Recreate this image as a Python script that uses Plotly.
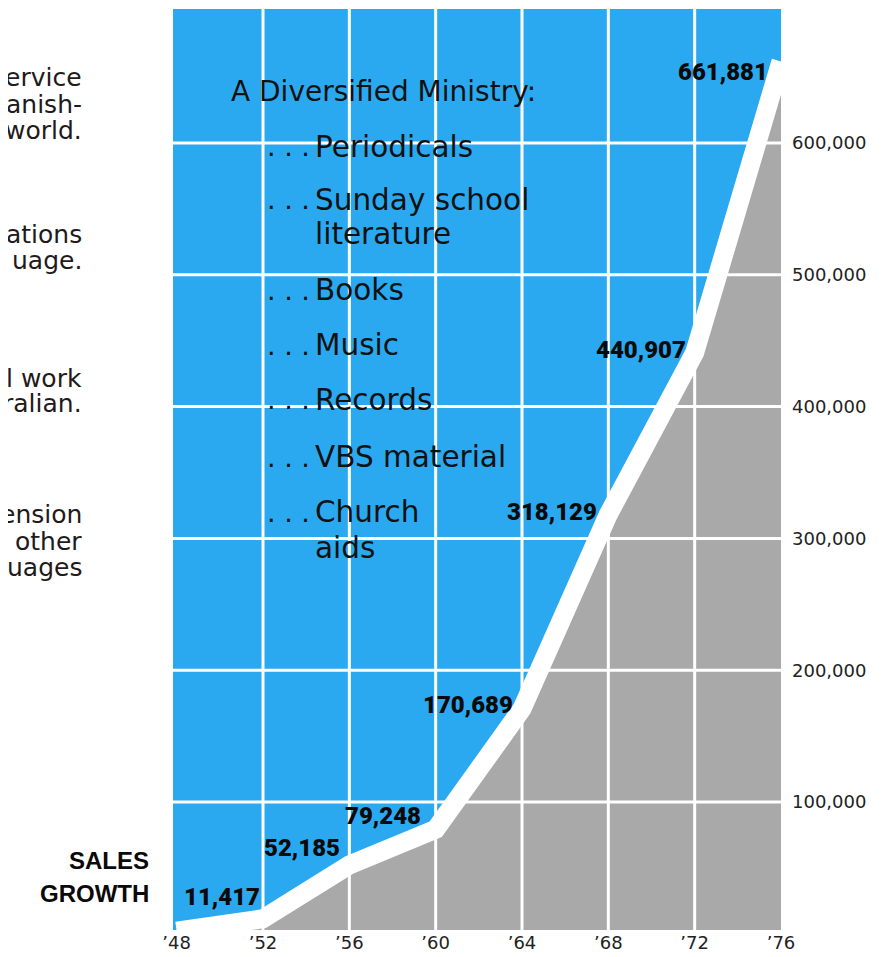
import plotly.graph_objects as go

# ---- data ----
years = [1948, 1952, 1956, 1960, 1964, 1968, 1972, 1976]
sales = [2000, 11417, 52185, 79248, 170689, 318129, 440907, 661881]
labeled_years = [1952, 1956, 1960, 1964, 1968, 1972, 1976]
labeled_sales = [11417, 52185, 79248, 170689, 318129, 440907, 661881]
label_text = ["11,417", "52,185", "79,248", "170,689", "318,129", "440,907", "661,881"]
x_ticks = [1948, 1952, 1956, 1960, 1964, 1968, 1972, 1976]
x_tick_text = ["\u201948", "\u201952", "\u201956", "\u201960", "\u201964", "\u201968", "\u201972", "\u201976"]
y_ticks = [100000, 200000, 300000, 400000, 500000, 600000]
y_tick_text = ["100,000", "200,000", "300,000", "400,000", "500,000", "600,000"]
grid_years = [1952, 1956, 1960, 1964, 1968, 1972]

title_text = "A Diversified Ministry:"
list_items = ["Periodicals", "Sunday school", "literature", "Books", "Music",
              "Records", "VBS material", "Church", "aids"]
list_has_dots = [True, True, False, True, True, True, True, True, False]
left_fragments = ["ervice", "anish-", "world.", "ations", "uage.",
                  "l work", "ralian.", "ension", "other", "uages"]

# ---- style / layout constants (page pixels; page body has an 8px margin) ----
OFF = 8
W, H = 883 - OFF, 957 - OFF
PLOT_LEFT, PLOT_RIGHT, PLOT_TOP, PLOT_BOTTOM = 173, 781, 9, 930
L = PLOT_LEFT - OFF
R = W - (PLOT_RIGHT - OFF)
T = PLOT_TOP - OFF
B = H - (PLOT_BOTTOM - OFF)
PW, PH = PLOT_RIGHT - PLOT_LEFT, PLOT_BOTTOM - PLOT_TOP
BLUE = "#2aa9f0"
GREY = "#a9a9a9"
LABEL_SHIFTS = [(-1, 22), (-7, 17), (-13, 13), (-7, 4), (-9, 3), (-7, 3), (-11, -11)]
list_y_px = [147, 200, 234, 290, 345, 400, 457, 512, 548]
left_y_px = [77, 104, 131, 234, 260, 379, 404, 514, 541, 567]


def px(xpix):
    return (xpix - PLOT_LEFT) / PW


def py(ypix):
    return (PLOT_BOTTOM - ypix) / PH


fig = go.Figure()
fig.add_trace(go.Scatter(
    x=years, y=sales, mode="lines", fill="tozeroy", fillcolor=GREY,
    line=dict(color="white", width=19), hoverinfo="skip", showlegend=False,
))

shapes = []
for yv in y_ticks:
    shapes.append(dict(type="line", xref="paper", yref="y", x0=0, x1=1, y0=yv, y1=yv,
                       line=dict(color="white", width=3), layer="above"))
for xv in grid_years:
    shapes.append(dict(type="line", xref="x", yref="paper", x0=xv, x1=xv, y0=0, y1=1,
                       line=dict(color="white", width=3), layer="above"))

ann = []
lab_font = dict(family="Roboto, Liberation Sans, Arial, sans-serif", size=24,
                color="#0a0a0a", weight=900)
for yr, v, t, (dx, dy) in zip(labeled_years, labeled_sales, label_text, LABEL_SHIFTS):
    ann.append(dict(x=yr, y=v, xref="x", yref="y", text=t, showarrow=False,
                    xanchor="right", yanchor="middle", xshift=dx, yshift=dy, font=lab_font))

title_font = dict(family="DejaVu Sans, sans-serif", size=28, color="#111111")
txt_font = dict(family="DejaVu Sans, sans-serif", size=29.5, color="#111111")
dot_font = dict(family="DejaVu Sans, sans-serif", size=27, color="#111111")
ann.append(dict(x=px(229), y=py(91), xref="paper", yref="paper", text=title_text,
                showarrow=False, xanchor="left", yanchor="middle", font=title_font))
for item, dots, ypix in zip(list_items, list_has_dots, list_y_px):
    if dots:
        ann.append(dict(x=px(265), y=py(ypix), xref="paper", yref="paper", text=". . .",
                        showarrow=False, xanchor="left", yanchor="middle", font=dot_font))
    ann.append(dict(x=px(313), y=py(ypix), xref="paper", yref="paper", text=item,
                    showarrow=False, xanchor="left", yanchor="middle", font=txt_font))

left_font = dict(family="DejaVu Sans, sans-serif", size=25, color="#221a1a")
for frag, ypix in zip(left_fragments, left_y_px):
    ann.append(dict(x=px(84), y=py(ypix), xref="paper", yref="paper", text=frag,
                    showarrow=False, xanchor="right", yanchor="middle", font=left_font))

sg_font = dict(family="Liberation Sans, Arial, sans-serif", size=24, color="#0a0a0a", weight="bold")
ann.append(dict(x=px(151), y=py(860), xref="paper", yref="paper", text="SALES",
                showarrow=False, xanchor="right", yanchor="middle", font=sg_font))
ann.append(dict(x=px(151), y=py(893), xref="paper", yref="paper", text="GROWTH",
                showarrow=False, xanchor="right", yanchor="middle", font=sg_font))

tick_font = dict(family="DejaVu Sans, sans-serif", size=18, color="#222222")
fig.update_layout(
    width=W, height=H,
    margin=dict(l=L, r=R, t=T, b=B),
    paper_bgcolor="white", plot_bgcolor=BLUE,
    shapes=shapes, annotations=ann,
    xaxis=dict(range=[1947.83, 1976.0], tickvals=x_ticks, ticktext=x_tick_text,
               showgrid=False, zeroline=False, showline=False, ticks="",
               tickfont=tick_font, fixedrange=True, automargin=False),
    yaxis=dict(range=[2883, 701670], tickvals=y_ticks, ticktext=y_tick_text, side="right",
               showgrid=False, zeroline=False, showline=False, ticks="", ticklabelstandoff=10,
               tickfont=tick_font, fixedrange=True, automargin=False),
)

fig.write_html("out.html", config={"displayModeBar": False})
